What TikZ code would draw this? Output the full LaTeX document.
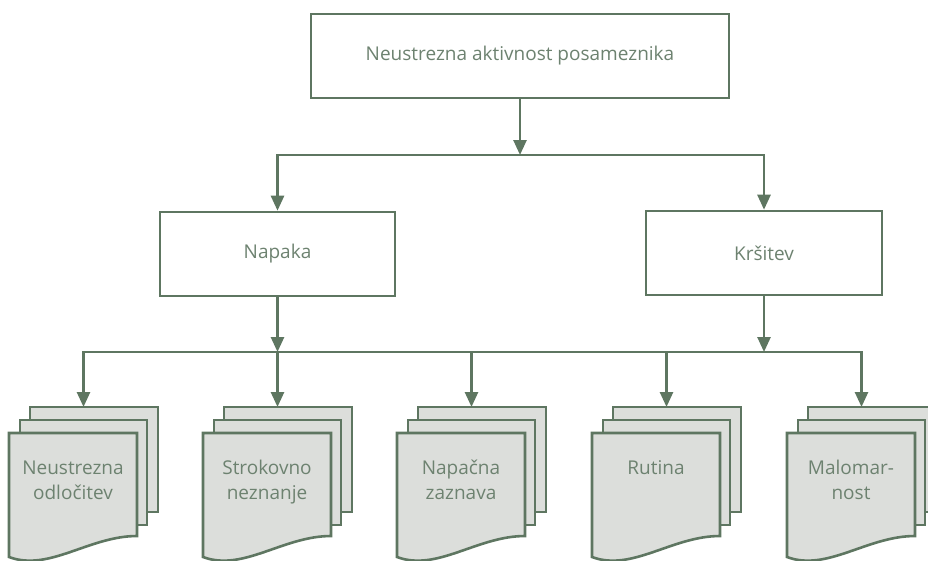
\documentclass[tikz,border=0pt]{standalone}
\usepackage{fontspec}
\setmainfont{Open Sans}
\usetikzlibrary{arrows.meta}
\definecolor{ln}{HTML}{5E7661}
\definecolor{tx}{HTML}{6D8270}
\definecolor{pg}{HTML}{DCDEDB}
\tikzset{
  lw/.style={line width=2.6pt},
  tip/.tip={Triangle[width=13pt,length=15pt]},
  box/.style={draw=ln, lw, fill=white, text=tx, font=\fontsize{19}{25}\selectfont, inner sep=0pt},
  conn/.style={draw=ln, lw, -tip},
  conn2/.style={draw=ln, lw, tip-tip},
  sheet/.style={draw=ln, lw, fill=pg, line join=miter},
  lbl/.style={text=tx, font=\fontsize{19}{25}\selectfont, align=center, inner sep=0pt, anchor=base},
}
% #1 left x of front sheet, #2 name, #3 text, #4 baseline of last line
\newcommand\docstack[4]{%
  \draw[sheet] (#1+21,407) rectangle (#1+149,512);
  \draw[sheet] (#1+11,420) rectangle (#1+138,525);
  \draw[sheet] (#1,433) -- (#1+128,433) -- (#1+128,536)
     .. controls (#1+80,536) and (#1+40,572) .. (#1,557) -- cycle;
  \coordinate (#2) at (#1+74.5,407);
  \node[lbl] (#2t) at (#1+64,#4) {#3};
}
\begin{document}
\begin{tikzpicture}[x=1pt,y=-1pt]
\useasboundingbox (0,0) rectangle (928,560);
% boxes
\node[box, minimum width=418pt, minimum height=84pt] (top) at (520,56) {Neustrezna aktivnost posameznika};
\node[box, minimum width=235pt, minimum height=84pt] (nap) at (277.5,254) {Napaka};
\node[box, minimum width=236pt, minimum height=84pt] (kr) at (764,253) {Kršitev};
% stacks
\docstack{9}{s1}{Neustrezna\\odločitev}{499}
\docstack{203}{s2}{Strokovno\\neznanje}{499}
\docstack{397}{s3}{Napačna\\zaznava}{499}
\docstack{592}{s4}{Rutina}{474}
\docstack{787}{s5}{Malomar-\\nost}{499}
% junctions
\coordinate (jt) at (520,155);
\coordinate (jn) at (277.5,352);
\coordinate (jk) at (764,352);
% connectors
\draw[conn] (top) -- (jt);
\draw[conn2] (nap) |- (jt) -| (kr);
\draw[conn] (nap) -- (jn);
\draw[conn] (kr) -- (jk);
\draw[conn2] (s1) |- (jn) -| (s5);
\draw[conn] (jn) -- (s2);
\draw[conn] (s3 |- jn) -- (s3);
\draw[conn] (s4 |- jn) -- (s4);
\end{tikzpicture}
\end{document}
